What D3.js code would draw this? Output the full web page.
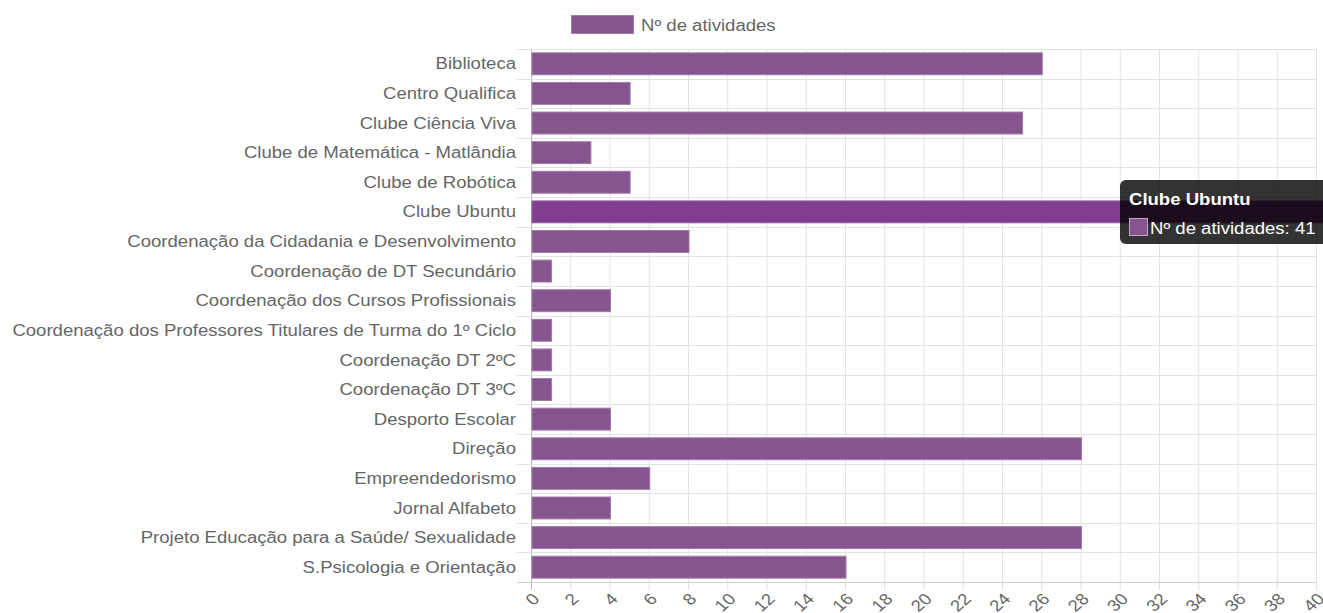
<!DOCTYPE html>
<html>
<head>
<meta charset="utf-8">
<script src="https://cdn.jsdelivr.net/npm/d3@7"></script>
<style>
  body { margin: 0; background: #fff; }
  text { font-family: "Liberation Sans", Arial, sans-serif; }
</style>
</head>
<body>
<div id="chart"></div>
<script>
// Data
const categories = [
  "Biblioteca",
  "Centro Qualifica",
  "Clube Ciência Viva",
  "Clube de Matemática - Matlândia",
  "Clube de Robótica",
  "Clube Ubuntu",
  "Coordenação da Cidadania e Desenvolvimento",
  "Coordenação de DT Secundário",
  "Coordenação dos Cursos Profissionais",
  "Coordenação dos Professores Titulares de Turma do 1º Ciclo ",
  "Coordenação DT 2ºC",
  "Coordenação DT 3ºC",
  "Desporto Escolar",
  "Direção",
  "Empreendedorismo",
  "Jornal Alfabeto",
  "Projeto Educação para a Saúde/ Sexualidade",
  "S.Psicologia e Orientação"
];
const activities = [26, 5, 25, 3, 5, 41, 8, 1, 4, 1, 1, 1, 4, 28, 6, 4, 28, 16];
const xTicks = d3.range(0, 41, 2);
const seriesName = "Nº de atividades";
const hovered = "Clube Ubuntu";

const W = 1323, H = 613;
const margin = {top: 49, right: 7, bottom: 31, left: 531};
const width = W - margin.left - margin.right;
const height = H - margin.top - margin.bottom;
const sx = 1.16; // the reference canvas is stretched sideways

const svg = d3.select("#chart").append("svg")
  .attr("width", W)
  .attr("height", H);

const x = d3.scaleLinear().domain([0, 40]).range([0, width]);
const y = d3.scaleBand().domain(categories).range([0, height]);

const g = svg.append("g").attr("transform", `translate(${margin.left},${margin.top})`);

svg.append("defs").append("clipPath").attr("id", "clip")
  .append("rect").attr("x", -margin.left).attr("y", -margin.top).attr("width", W).attr("height", H);

// vertical grid
g.selectAll(".vgrid")
  .data(xTicks)
  .join("line")
  .attr("x1", d => x(d) + 0.5).attr("x2", d => x(d) + 0.5)
  .attr("y1", 0).attr("y2", height + 8)
  .attr("stroke", d => d === 0 ? "#b8b8b8" : "#e2e2e2")
  .attr("stroke-width", 1);

// horizontal grid at band boundaries
const bounds = categories.map(c => y(c)).concat([height]);
g.selectAll(".hgrid")
  .data(bounds)
  .join("line")
  .attr("x1", -14).attr("x2", width + 1)
  .attr("y1", d => Math.round(d) + 0.5).attr("y2", d => Math.round(d) + 0.5)
  .attr("stroke", (d, i) => i === bounds.length - 1 ? "#cfcfcf" : "#e2e2e2")
  .attr("stroke-width", 1);

// bars
const barH = y.bandwidth() * 0.74;
g.append("g").attr("clip-path", "url(#clip)")
  .selectAll("rect")
  .data(categories.map((c, i) => ({cat: c, v: activities[i]})))
  .join("rect")
  .attr("x", x(0) + 1)
  .attr("y", d => y(d.cat) + (y.bandwidth() - barH) / 2)
  .attr("width", d => x(d.v) - x(0))
  .attr("height", barH)
  .attr("fill", d => d.cat === hovered ? "#823e8e" : "#86548f")
  .attr("stroke", d => d.cat === hovered ? "#9a5fa5" : "#a27aa9")
  .attr("stroke-width", 1);

// y labels
g.selectAll(".ylab")
  .data(categories)
  .join("text")
  .attr("transform", d => `translate(-15,${y(d) + y.bandwidth() / 2}) scale(${sx},1)`)
  .attr("dy", "0.35em")
  .attr("text-anchor", "end")
  .attr("font-size", 16)
  .attr("fill", "#666")
  .text(d => d);

// x tick labels, rotated
g.selectAll(".xlab")
  .data(xTicks)
  .join("text")
  .attr("transform", d => `translate(${x(d) + 5},${height + 14}) scale(${sx},1) rotate(-45)`)
  .attr("text-anchor", "end")
  .attr("dy", "0.35em")
  .attr("font-size", 16)
  .attr("fill", "#666")
  .text(d => d);

// legend
const legend = svg.append("g");
legend.append("rect")
  .attr("x", 571.5).attr("y", 15.5).attr("width", 62).attr("height", 18)
  .attr("fill", "#86548f").attr("stroke", "#a27aa9");
legend.append("text")
  .attr("transform", `translate(641,25) scale(${sx},1)`)
  .attr("dy", "0.35em")
  .attr("font-size", 16).attr("fill", "#666")
  .text(seriesName);

// tooltip
const hv = activities[categories.indexOf(hovered)];
const tip = svg.append("g").attr("transform", "translate(1120,180)");
tip.append("rect")
  .attr("width", 212).attr("height", 64).attr("rx", 6)
  .attr("fill", "rgba(0,0,0,0.8)");
tip.append("text")
  .attr("transform", `translate(9,25) scale(${sx},1)`)
  .attr("font-size", 16).attr("font-weight", "bold").attr("fill", "#fff")
  .text(hovered);
tip.append("rect")
  .attr("x", 9.5).attr("y", 38.5).attr("width", 18).attr("height", 17)
  .attr("fill", "#86548f").attr("stroke", "#c3a5c9");
tip.append("text")
  .attr("transform", `translate(30,54) scale(${sx},1)`)
  .attr("font-size", 16).attr("fill", "#fff")
  .text(`${seriesName}: ${hv}`);
</script>
</body>
</html>
